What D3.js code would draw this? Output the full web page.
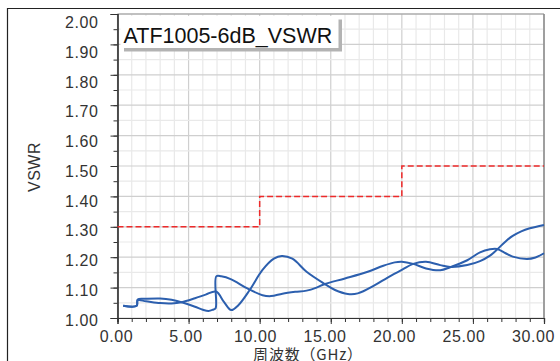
<!DOCTYPE html>
<html>
<head>
<meta charset="utf-8">
<script src="https://cdn.jsdelivr.net/npm/d3@7"></script>
<style>
  html, body { margin: 0; padding: 0; background: #fff; }
  svg { display: block; }
  text { font-family: "Liberation Sans", Arial, Helvetica, sans-serif; fill: #333; }
</style>
</head>
<body>
<svg id="chart" width="560" height="361"></svg>
<script>
// ---------- data ----------
const xMajorTicks = [0, 5, 10, 15, 20, 25, 30];
const xTickLabels = ["0.00", "5.00", "10.00", "15.00", "20.00", "25.00", "30.00"];
const yMajorTicks = [1.0, 1.1, 1.2, 1.3, 1.4, 1.5, 1.6, 1.7, 1.8, 1.9, 2.0];
const yTickLabels = ["1.00", "1.10", "1.20", "1.30", "1.40", "1.50", "1.60", "1.70", "1.80", "1.90", "2.00"];

// limit line (spec)
const limitFreq = [0, 10, 10, 20, 20, 30];
const limitVswr = [1.30, 1.30, 1.40, 1.40, 1.50, 1.50];

// trace A
const freqA = [0.4, 1.35, 1.42, 2.0, 3.0, 3.8, 4.5, 5.45, 6.0, 6.4, 6.7, 6.9, 6.95, 7.3, 8.0, 9.1, 10.2, 10.8, 11.6, 12.5, 13.3, 14.0, 14.6, 16.0, 17.6, 18.7, 19.5, 20.0, 20.8, 21.7, 22.7, 23.4, 24.6, 25.5, 26.2, 26.7, 27.3, 27.8, 28.8, 29.4, 30.0];
const vswrA = [1.040, 1.040, 1.061, 1.063, 1.064, 1.060, 1.052, 1.037, 1.027, 1.023, 1.027, 1.032, 1.137, 1.137, 1.127, 1.098, 1.075, 1.072, 1.080, 1.086, 1.090, 1.100, 1.112, 1.130, 1.152, 1.172, 1.183, 1.185, 1.178, 1.163, 1.157, 1.167, 1.190, 1.216, 1.226, 1.227, 1.213, 1.202, 1.194, 1.199, 1.213];

// trace B
const freqB = [0.4, 1.35, 1.42, 2.0, 3.0, 3.8, 4.5, 5.45, 6.2, 6.93, 7.5, 8.0, 8.5, 9.3, 10.2, 11.0, 11.55, 12.3, 13.3, 14.5, 15.3, 16.2, 16.9, 18.1, 19.0, 20.0, 20.8, 21.7, 22.7, 23.4, 24.6, 25.5, 26.2, 26.7, 27.3, 27.8, 28.4, 29.0, 30.0];
const vswrB = [1.040, 1.040, 1.058, 1.055, 1.049, 1.048, 1.052, 1.065, 1.077, 1.087, 1.052, 1.026, 1.042, 1.092, 1.158, 1.195, 1.204, 1.195, 1.152, 1.114, 1.092, 1.079, 1.081, 1.108, 1.133, 1.158, 1.178, 1.185, 1.174, 1.168, 1.174, 1.187, 1.205, 1.225, 1.252, 1.270, 1.285, 1.295, 1.306];

// ---------- drawing ----------
const svg = d3.select("#chart");
const x = d3.scaleLinear().domain([0, 30]).range([117.5, 544]);
const y = d3.scaleLinear().domain([1, 2]).range([318, 14]);

// outer frame (image border)
svg.append("line").attr("x1", 7).attr("x2", 560).attr("y1", 8.5).attr("y2", 8.5).attr("stroke", "#222").attr("stroke-width", 1.2);
svg.append("line").attr("x1", 7.5).attr("x2", 7.5).attr("y1", 8).attr("y2", 361).attr("stroke", "#222").attr("stroke-width", 1.2);

// grid
const g = svg.append("g");
const xMinor = d3.range(0, 31, 1);
const yMinor = d3.range(0, 21).map(i => 1 + i * 0.05);
g.selectAll(".gxm").data(xMinor).join("line")
  .attr("x1", d => x(d)).attr("x2", d => x(d)).attr("y1", y(2)).attr("y2", y(1))
  .attr("stroke", d => d % 5 === 0 ? "#cfcfcf" : "#e9e9e9").attr("stroke-width", 1.2);
g.selectAll(".gym").data(yMinor).join("line")
  .attr("x1", x(0)).attr("x2", x(30)).attr("y1", d => y(d)).attr("y2", d => y(d))
  .attr("stroke", (d, i) => i % 2 === 0 ? "#cfcfcf" : "#e9e9e9").attr("stroke-width", 1.2);

// plot frame top / right
svg.append("line").attr("x1", x(0)).attr("x2", x(30)).attr("y1", y(2)).attr("y2", y(2)).attr("stroke", "#999").attr("stroke-width", 1.2);
svg.append("line").attr("x1", x(30)).attr("x2", x(30)).attr("y1", y(2)).attr("y2", y(1)).attr("stroke", "#888").attr("stroke-width", 1.5);

// axes
const xAxisMinor = d3.axisBottom(x).tickValues(xMinor).tickSize(4).tickFormat("");
const xAxis = d3.axisBottom(x).tickValues(xMajorTicks).tickSize(6).tickFormat((d, i) => xTickLabels[i]);
const yAxisMinor = d3.axisLeft(y).tickValues(yMinor).tickSize(4).tickFormat("");
const yAxis = d3.axisLeft(y).tickValues(yMajorTicks).tickSize(7).tickFormat((d, i) => yTickLabels[i]);

function styleAxis(sel) {
  sel.select(".domain").attr("stroke", "#333").attr("stroke-width", 1.2);
  sel.selectAll(".tick line").attr("stroke", "#333").attr("stroke-width", 1);
  sel.selectAll(".tick text").attr("fill", "#333").style("font-size", "16px").style("letter-spacing", "0.6px");
}
const gxm = svg.append("g").attr("transform", `translate(0,${y(1)})`).call(xAxisMinor); styleAxis(gxm);
const gx = svg.append("g").attr("transform", `translate(0,${y(1)})`).call(xAxis); styleAxis(gx);
gx.selectAll(".tick text").attr("dy", "0").attr("y", 24).attr("x", d => -1.5 - d * 0.32);
const gym = svg.append("g").attr("transform", `translate(${x(0)},0)`).call(yAxisMinor); styleAxis(gym);
const gy = svg.append("g").attr("transform", `translate(${x(0)},0)`).call(yAxis); styleAxis(gy);
gy.selectAll(".tick text").attr("x", -19).attr("dy", d => (1.5 + (d - 1) * 6.7) + 5.5);

// limit line
const line = d3.line().x(d => x(d[0])).y(d => y(d[1]));
svg.append("path")
  .attr("d", line(limitFreq.map((f, i) => [f, limitVswr[i]])))
  .attr("fill", "none").attr("stroke", "#ee2a2a").attr("stroke-width", 1.5)
  .attr("stroke-dasharray", "6,3");

// traces
const curve = d3.line().x(d => x(d[0])).y(d => y(d[1])).curve(d3.curveCatmullRom.alpha(0.5));
[[freqA, vswrA], [freqB, vswrB]].forEach(([fs, vs]) => {
  svg.append("path")
    .attr("d", curve(fs.map((f, i) => [f, vs[i]])))
    .attr("fill", "none").attr("stroke", "#2c5fae").attr("stroke-width", 2)
    .attr("stroke-linejoin", "round");
});

// title box
svg.append("rect").attr("x", 124).attr("y", 19.5).attr("width", 218).attr("height", 32).attr("fill", "#b3b3b3");
svg.append("rect").attr("x", 120.5).attr("y", 16).attr("width", 218).attr("height", 32).attr("fill", "#fff");
svg.append("text").attr("x", 123.5).attr("y", 43).style("font-size", "21.5px").style("fill", "#111")
  .text("ATF1005-6dB_VSWR");

// axis titles
svg.append("text").attr("transform", "translate(40,167) rotate(-90)").attr("text-anchor", "middle")
  .style("font-size", "16px").style("letter-spacing", "0.5px").text("VSWR");
svg.append("text").attr("x", 308).attr("y", 359.5).attr("text-anchor", "middle")
  .style("font-size", "15px").style("letter-spacing", "0.8px")
  .style("font-family", "'Noto Sans CJK JP', 'Liberation Sans', sans-serif")
  .text("周波数（GHz）");
</script>
</body>
</html>
